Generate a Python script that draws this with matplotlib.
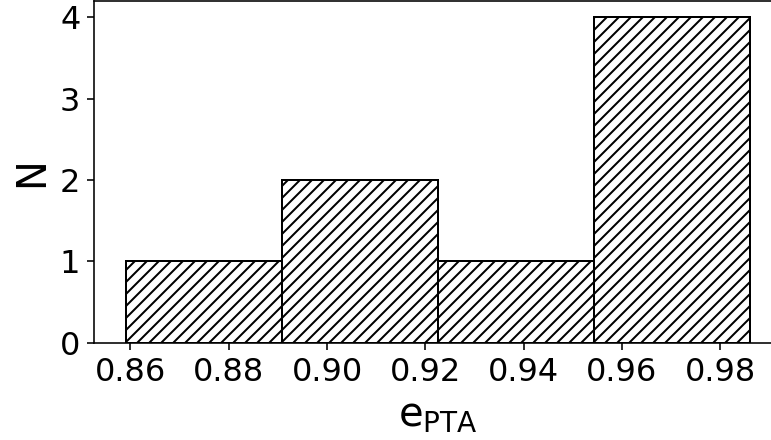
import matplotlib
matplotlib.use("Agg")
import matplotlib.pyplot as plt
import numpy as np

# Histogram data
bin_edges = [0.8590, 0.8908, 0.9225, 0.9543, 0.9860]
counts = [1, 2, 1, 4]
xticks = [0.86, 0.88, 0.90, 0.92, 0.94, 0.96, 0.98]
yticks = [0, 1, 2, 3, 4]

DPI = 144
fig = plt.figure(figsize=(771 / DPI, 440 / DPI), dpi=DPI)
ax = fig.add_axes([0.1223, 0.2211, 0.8907, 0.7766])

ax.hist(bin_edges[:-1], bins=bin_edges, weights=counts, histtype='bar',
        color='white', edgecolor='black', hatch='////', linewidth=1.0)

ax.set_xticks(xticks)
ax.set_xticklabels([f"{t:.2f}" for t in xticks])
ax.set_yticks(yticks)
ax.tick_params(labelsize=16)
ax.set_xlabel(r"e$_{\mathrm{PTA}}$", fontsize=20)
ax.set_ylabel("N", fontsize=20)

fig.savefig("out.png", dpi=DPI)
